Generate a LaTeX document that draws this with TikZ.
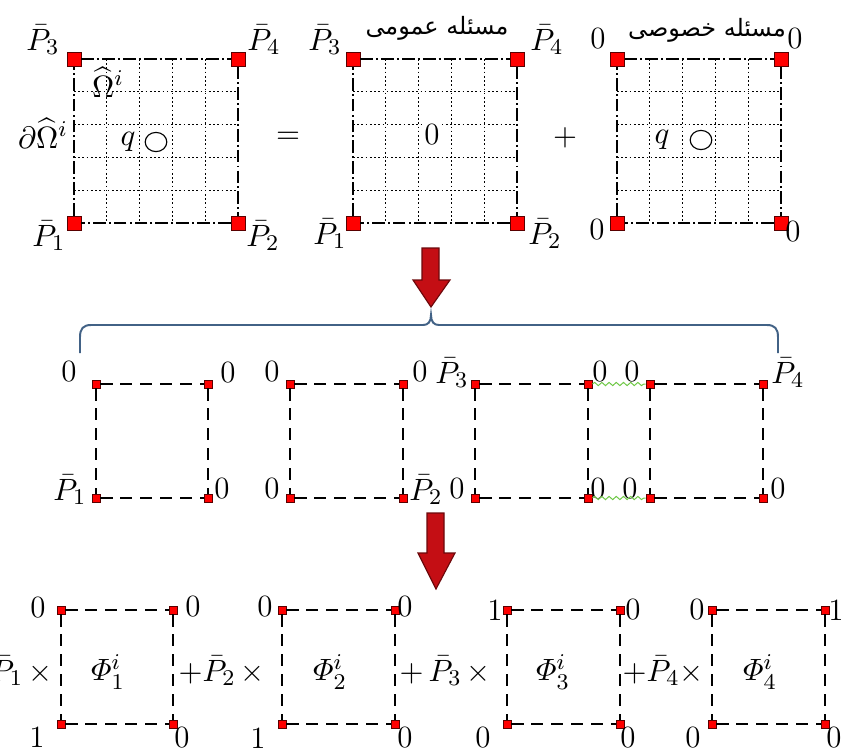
\documentclass[tikz,border=0pt]{standalone}
\usepackage{amsmath}
\usepackage{fontspec}
\newfontfamily\persianfont[Script=Arabic]{DejaVu Sans}
\TeXXeTstate=1
\usepackage{tikz}
\usetikzlibrary{positioning, calc, shapes.geometric, decorations.pathmorphing}
\usepackage{xcolor}
\definecolor{arrowred}{RGB}{196,14,20}
\definecolor{bracecol}{RGB}{66,98,134}
\definecolor{wavegreen}{RGB}{110,200,70}

\begin{document}
\begin{tikzpicture}[
        x=0.0125cm, y=-0.0125cm,
        font=\fontsize{11}{13}\selectfont,
        bigcorner/.style={rectangle, fill=red, draw=red!35!black, line width=0.35pt, minimum size=0.175cm, inner sep=0pt},
        smallcorner/.style={rectangle, fill=red, draw=red!35!black, line width=0.3pt, minimum size=0.1cm, inner sep=0pt},
        border/.style={line width=0.75pt, dash pattern=on 4.5pt off 1.1pt on 0.7pt off 1.1pt},
        gridline/.style={line width=0.4pt, dash pattern=on 0.6pt off 0.9pt},
        edge/.style={line width=0.75pt, dash pattern=on 4.3pt off 2.8pt},
        hole/.style={draw, ellipse, line width=0.4pt, minimum width=0.27cm, minimum height=0.24cm, inner sep=0pt},
        lbl/.style={inner sep=0pt},
        title/.style={inner sep=0pt, font=\persianfont\fontsize{8.5}{10}\selectfont},
        wavy/.style={draw=wavegreen, line width=0.35pt, decorate, decoration={snake, amplitude=0.2mm, segment length=0.9mm}},
        downarrow/.style={fill=arrowred, draw=arrowred!55!black, line width=0.4pt},
        brace/.style={draw=bracecol, line width=0.7pt}
    ]
    \useasboundingbox (0,0) rectangle (841,751);

    % whole problem
    \node[bigcorner] (s1tl) at (74,59) {};
    \node[bigcorner] (s1tr) at (238,59) {};
    \node[bigcorner] (s1bl) at (74,223) {};
    \node[bigcorner] (s1br) at (238,223) {};
    \foreach \k in {1,...,4} {
        \draw[gridline] ($(s1tl)!\k/5!(s1tr)$) -- ($(s1bl)!\k/5!(s1br)$);
        \draw[gridline] ($(s1tl)!\k/5!(s1bl)$) -- ($(s1tr)!\k/5!(s1br)$);
    }
    \draw[border] (s1tl) -- (s1tr);
    \draw[border] (s1tr) -- (s1br);
    \draw[border] (s1br) -- (s1bl);
    \draw[border] (s1bl) -- (s1tl);
    \node[lbl] (s1p3) at (43,40) {$\bar{P}_3$};
    \node[lbl] (s1p4) at (264,40) {$\bar{P}_4$};
    \node[lbl] (s1p1) at (49,236) {$\bar{P}_1$};
    \node[lbl] (s1p2) at (263,236) {$\bar{P}_2$};
    \node[lbl] (omega) at (108,82) {$\widehat{\Omega}^i$};
    \node[lbl] (domega) at (43,133) {$\partial\widehat{\Omega}^i$};
    \node[lbl] (s1q) at (128,142) {$q$};
    \node[hole] (s1src) at (156,142) {};
    \node[lbl] (eq) at (288,138) {$=$};

    % general problem
    \node[bigcorner] (s2tl) at (353,59) {};
    \node[bigcorner] (s2tr) at (517,59) {};
    \node[bigcorner] (s2bl) at (353,223) {};
    \node[bigcorner] (s2br) at (517,223) {};
    \foreach \k in {1,...,4} {
        \draw[gridline] ($(s2tl)!\k/5!(s2tr)$) -- ($(s2bl)!\k/5!(s2br)$);
        \draw[gridline] ($(s2tl)!\k/5!(s2bl)$) -- ($(s2tr)!\k/5!(s2br)$);
    }
    \draw[border] (s2tl) -- (s2tr);
    \draw[border] (s2tr) -- (s2br);
    \draw[border] (s2br) -- (s2bl);
    \draw[border] (s2bl) -- (s2tl);
    \node[lbl] (s2p3) at (325,40) {$\bar{P}_3$};
    \node[lbl] (s2p4) at (547,40) {$\bar{P}_4$};
    \node[lbl] (s2p1) at (330,234) {$\bar{P}_1$};
    \node[lbl] (s2p2) at (545,234) {$\bar{P}_2$};
    \node[lbl, fill=white, inner sep=1pt] (s2zero) at (432,135) {0};
    \node[title] (s2title) at (437,28) {\beginR مسئله عمومی\endR};
    \node[lbl] (plus) at (565,138) {$+$};

    % particular problem
    \node[bigcorner] (s3tl) at (617,59) {};
    \node[bigcorner] (s3tr) at (781,59) {};
    \node[bigcorner] (s3bl) at (617,223) {};
    \node[bigcorner] (s3br) at (781,223) {};
    \foreach \k in {1,...,4} {
        \draw[gridline] ($(s3tl)!\k/5!(s3tr)$) -- ($(s3bl)!\k/5!(s3br)$);
        \draw[gridline] ($(s3tl)!\k/5!(s3bl)$) -- ($(s3tr)!\k/5!(s3br)$);
    }
    \draw[border] (s3tl) -- (s3tr);
    \draw[border] (s3tr) -- (s3br);
    \draw[border] (s3br) -- (s3bl);
    \draw[border] (s3bl) -- (s3tl);
    \node[lbl] (s3z3) at (598,39) {0};
    \node[lbl] (s3z4) at (795,39) {0};
    \node[lbl] (s3z1) at (597,230) {0};
    \node[lbl] (s3z2) at (793,232) {0};
    \node[lbl] (s3q) at (662,140) {$q$};
    \node[hole] (s3src) at (701,140) {};
    \node[title] (s3title) at (707,30) {\beginR مسئله خصوصی\endR};

    % first arrow and brace
    \filldraw[downarrow] (422,248) -- (439,248) -- (439,280) -- (450,280) -- (431,307) -- (413,280) -- (422,280) -- cycle;
    \draw[brace] (80,353) -- (80,337) .. controls (80,329) and (83,325) .. (91,325) -- (423,325)
        .. controls (428,325) and (431,322) .. (431,315)
        .. controls (431,322) and (434,325) .. (439,325) -- (767,325)
        .. controls (775,325) and (778,329) .. (778,337) -- (778,353);

    % four sub-problems
    \node[smallcorner] (atl) at (96,384) {};
    \node[smallcorner] (atr) at (208,384) {};
    \node[smallcorner] (abl) at (96,498) {};
    \node[smallcorner] (abr) at (208,498) {};
    \draw[edge] (atl) -- (atr);
    \draw[edge] (atr) -- (abr);
    \draw[edge] (abl) -- (abr);
    \draw[edge] (atl) -- (abl);
    \node[lbl] (az3) at (69,372) {0};
    \node[lbl] (az4) at (228,373) {0};
    \node[lbl] (ap1) at (70,490) {$\bar{P}_1$};
    \node[lbl] (az2) at (222,489) {0};

    \node[smallcorner] (btl) at (290,384) {};
    \node[smallcorner] (btr) at (403,384) {};
    \node[smallcorner] (bbl) at (290,498) {};
    \node[smallcorner] (bbr) at (403,498) {};
    \draw[edge] (btl) -- (btr);
    \draw[edge] (btr) -- (bbr);
    \draw[edge] (bbl) -- (bbr);
    \draw[edge] (btl) -- (bbl);
    \node[lbl] (bz3) at (272,372) {0};
    \node[lbl] (bz4) at (420,372) {0};
    \node[lbl] (bz1) at (272,489) {0};
    \node[lbl] (bp2) at (426,490) {$\bar{P}_2$};

    \node[smallcorner] (ctl) at (475,384) {};
    \node[smallcorner] (ctr) at (588,384) {};
    \node[smallcorner] (cbl) at (475,498) {};
    \node[smallcorner] (cbr) at (588,498) {};
    \draw[edge] (ctl) -- (ctr);
    \draw[edge] (ctr) -- (cbr);
    \draw[edge] (cbl) -- (cbr);
    \draw[edge] (ctl) -- (cbl);
    \node[lbl] (cp3) at (452,373) {$\bar{P}_3$};
    \node[lbl] (cz4) at (600,372) {0};
    \node[lbl] (cz1) at (457,489) {0};
    \node[lbl] (cz2) at (598,489) {0};

    \node[smallcorner] (dtl) at (650,384) {};
    \node[smallcorner] (dtr) at (763,384) {};
    \node[smallcorner] (dbl) at (650,498) {};
    \node[smallcorner] (dbr) at (763,498) {};
    \draw[edge] (dtl) -- (dtr);
    \draw[edge] (dtr) -- (dbr);
    \draw[edge] (dbl) -- (dbr);
    \draw[edge] (dtl) -- (dbl);
    \node[lbl] (dz3) at (632,372) {0};
    \node[lbl] (dp4) at (788,373) {$\bar{P}_4$};
    \node[lbl] (dz1) at (630,489) {0};
    \node[lbl] (dz2) at (778,489) {0};

    \draw[wavy] (ctr) -- (dtl);
    \draw[wavy] (cbr) -- (dbl);

    % second arrow
    \filldraw[downarrow] (427,513) -- (444,513) -- (444,553) -- (455,553) -- (436,589) -- (418,553) -- (427,553) -- cycle;

    % shape functions
    \node[lbl, anchor=east] (eterm) at (53,671) {$\bar{P}_1\,\times$};
    \node[smallcorner] (etl) at (61,610) {};
    \node[smallcorner] (etr) at (173,610) {};
    \node[smallcorner] (ebl) at (61,724) {};
    \node[smallcorner] (ebr) at (173,724) {};
    \draw[edge] (etl) -- (etr);
    \draw[edge] (etr) -- (ebr);
    \draw[edge] (ebl) -- (ebr);
    \draw[edge] (etl) -- (ebl);
    \node[lbl] (ez3) at (38,608) {0};
    \node[lbl] (ez4) at (193,607) {0};
    \node[lbl] (ez1) at (37,737) {1};
    \node[lbl] (ez2) at (182,738) {0};
    \node[lbl] (phi1) at (108,672) {$\varPhi_1^i$};

    \node[lbl, anchor=west] (fterm) at (178,671) {$+\bar{P}_2\,\times$};
    \node[smallcorner] (ftl) at (282,610) {};
    \node[smallcorner] (ftr) at (395,610) {};
    \node[smallcorner] (fbl) at (282,724) {};
    \node[smallcorner] (fbr) at (395,724) {};
    \draw[edge] (ftl) -- (ftr);
    \draw[edge] (ftr) -- (fbr);
    \draw[edge] (fbl) -- (fbr);
    \draw[edge] (ftl) -- (fbl);
    \node[lbl] (fz3) at (265,607) {0};
    \node[lbl] (fz4) at (405,607) {0};
    \node[lbl] (fz1) at (258,738) {1};
    \node[lbl] (fz2) at (405,738) {0};
    \node[lbl] (phi2) at (330,672) {$\varPhi_2^i$};

    \node[lbl, anchor=west] (gterm) at (399,671) {$+\,\bar{P}_3\,\times$};
    \node[smallcorner] (gtl) at (507,610) {};
    \node[smallcorner] (gtr) at (620,610) {};
    \node[smallcorner] (gbl) at (507,724) {};
    \node[smallcorner] (gbr) at (620,724) {};
    \draw[edge] (gtl) -- (gtr);
    \draw[edge] (gtr) -- (gbr);
    \draw[edge] (gbl) -- (gbr);
    \draw[edge] (gtl) -- (gbl);
    \node[lbl] (gz3) at (495,610) {1};
    \node[lbl] (gz4) at (633,610) {0};
    \node[lbl] (gz1) at (483,738) {0};
    \node[lbl] (gz2) at (628,738) {0};
    \node[lbl] (phi3) at (553,672) {$\varPhi_3^i$};

    \node[lbl, anchor=west] (hterm) at (622,671) {$+\bar{P}_4{\times}$};
    \node[smallcorner] (htl) at (712,610) {};
    \node[smallcorner] (htr) at (825,610) {};
    \node[smallcorner] (hbl) at (712,724) {};
    \node[smallcorner] (hbr) at (825,724) {};
    \draw[edge] (htl) -- (htr);
    \draw[edge] (htr) -- (hbr);
    \draw[edge] (hbl) -- (hbr);
    \draw[edge] (htl) -- (hbl);
    \node[lbl] (hz3) at (697,610) {0};
    \node[lbl] (hz4) at (836,610) {1};
    \node[lbl] (hz1) at (693,738) {0};
    \node[lbl] (hz2) at (834,738) {0};
    \node[lbl] (phi4) at (760,672) {$\varPhi_4^i$};
\end{tikzpicture}
\end{document}
